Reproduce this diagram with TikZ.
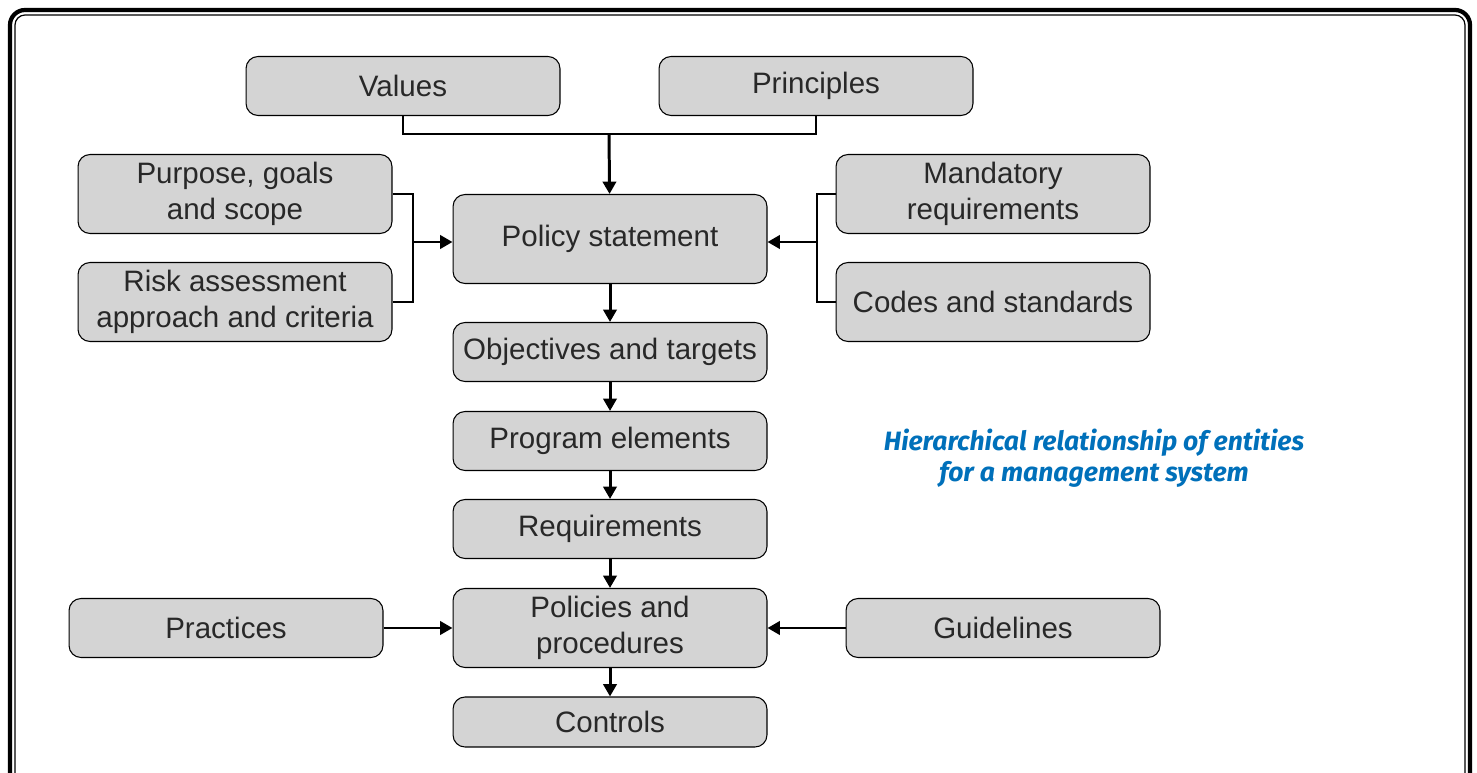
\documentclass[tikz,border=0pt]{standalone}
\usepackage{fontspec}
\setmainfont{Liberation Sans}
\newfontfamily\titlefont{Fira Sans}
\usetikzlibrary{positioning,arrows.meta}
\definecolor{boxgray}{RGB}{212,212,212}
\definecolor{txtgray}{RGB}{40,40,40}
\definecolor{titleblue}{RGB}{0,112,186}

\begin{document}
\begin{tikzpicture}[x=0.02cm, y=-0.02cm,
    box/.style = {draw, fill=boxgray, rounded corners=0.24cm, line width=0.6pt,
        minimum width=6.28cm, minimum height=1.18cm, inner sep=1pt, align=center,
        text=txtgray, font=\fontsize{16.8}{20.5}\selectfont},
    tall/.style = {minimum height=1.58cm},
    link/.style = {draw, line width=0.6pt},
    arr/.style = {draw, line width=1.7pt, -{Triangle[length=7pt,width=7.5pt]}}]
    % frame
    \useasboundingbox (0,0) rectangle (1477,773);
    \clip (0,0) rectangle (1477,773);
    \draw[line width=2.4pt, rounded corners=0.3cm] (10,10) rectangle (1470,820);
    \draw[line width=0.7pt, rounded corners=0.2cm] (15,15) rectangle (1465,820);
    % top row
    \node[box] (val) at (403,86) {Values};
    \node[box] (pri) at (816,86) {Principles};
    % left and right inputs
    \node[box, tall] (pur) at (235,194) {Purpose, goals\\and scope};
    \node[box, tall] (risk) at (235,302) {Risk assessment\\approach and criteria};
    \node[box, tall] (man) at (993,194) {Mandatory\\requirements};
    \node[box, tall] (cod) at (993,302) {Codes and standards};
    % center column
    \node[box, minimum height=1.78cm] (pol) at (610,239) {Policy statement};
    \node[box] (obj) at (610,352) {Objectives and targets};
    \node[box] (prog) at (610,441) {Program elements};
    \node[box] (req) at (610,529) {Requirements};
    \node[box, tall] (proc) at (610,628) {Policies and\\procedures};
    \node[box, minimum height=1.0cm] (ctrl) at (610,722) {Controls};
    \node[box] (prac) at (226,628) {Practices};
    \node[box] (guid) at (1003,628) {Guidelines};
    % caption
    \node[text=titleblue, align=center, font=\titlefont\bfseries\itshape\fontsize{15.1}{17.5}\selectfont]
        (cap) at (1094,458) {Hierarchical relationship of entities\\for a management system};
    % joints
    \coordinate (top) at (609,134);
    \coordinate (lb) at (413,242);
    \coordinate (rb) at (817,242);
    \draw[link] (val.south) |- (top) -| (pri.south);
    \draw[link] (pur.east) -| (lb) |- (risk.east);
    \draw[link] (man.west) -| (rb) |- (cod.west);
    % arrows
    \draw[arr] (top) -- (pol);
    \draw[arr] (lb) -- (lb -| pol.west);
    \draw[arr] (rb) -- (rb -| pol.east);
    \draw[arr] (pol) -- (obj);
    \draw[arr] (obj) -- (prog);
    \draw[arr] (prog) -- (req);
    \draw[arr] (req) -- (proc);
    \draw[arr] (proc) -- (ctrl);
    \draw[arr] (prac) -- (proc);
    \draw[arr] (guid) -- (proc);
\end{tikzpicture}
\end{document}
